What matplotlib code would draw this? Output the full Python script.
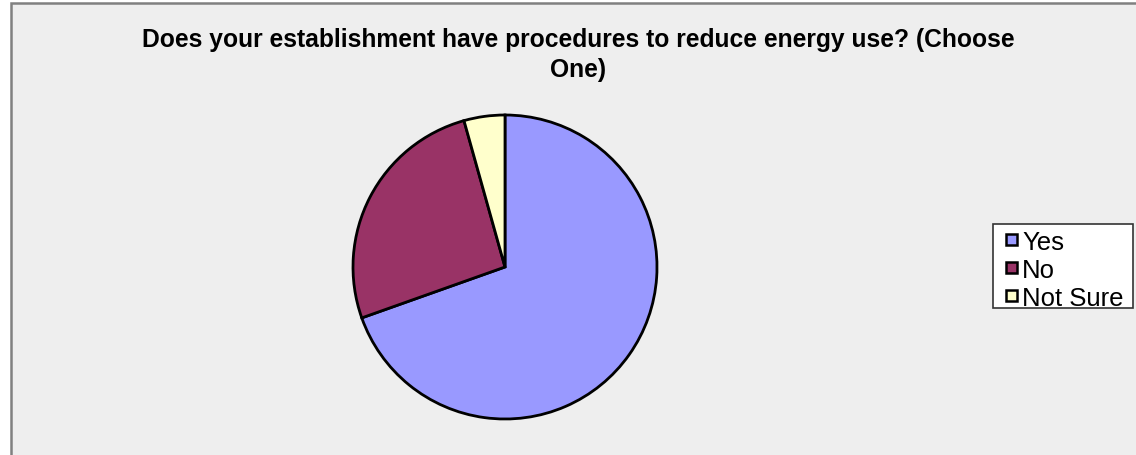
import matplotlib.pyplot as plt
from matplotlib.patches import Rectangle

# survey answers (counts)
labels = ["Yes", "No", "Not Sure"]
counts = [16, 6, 1]
colors = ["#9999ff", "#993366", "#ffffcc"]

title = "Does your establishment have procedures to reduce energy use? (Choose\nOne)"

plt.rcParams['font.family'] = ['Liberation Sans', 'DejaVu Sans']

W, H = 1136, 456
fig = plt.figure(figsize=(W / 100, H / 100), dpi=100)
fig.patch.set_facecolor("white")

# axes in pixel units so the pie can be placed directly
ax = fig.add_axes([0, 0, 1, 1])

# chart area background with grey frame
ax.add_patch(Rectangle((10.5, -10), W + 20, H - 3.5 + 10, facecolor="#eeeeee",
                       edgecolor="#808080", lw=1.8, zorder=0))

wedges, _ = ax.pie(counts, colors=colors, startangle=90, counterclock=False,
                   center=(505, H - 268), radius=152, frame=True,
                   wedgeprops=dict(edgecolor="black", linewidth=2))
ax.set_xlim(0, W)
ax.set_ylim(0, H)
ax.set_aspect("equal")
ax.axis("off")

ax.text(578, H - 55, title, ha="center", va="center", fontsize=17.7,
        fontweight="bold", linespacing=1.3)

# legend box drawn by hand: white frame, small squares, one row per answer
ax.add_patch(Rectangle((993, H - 309), 140, 84, facecolor="white",
                       edgecolor="#333333", lw=1.2, zorder=3))
row_y = [240, 268, 296]
for lab, col, y in zip(labels, colors, row_y):
    ax.add_patch(Rectangle((1006, H - y - 5.5), 11, 11, facecolor=col,
                           edgecolor="black", lw=1.8, zorder=4))
    ax.text(1022, H - y, lab, ha="left", va="center_baseline", fontsize=18.5,
            zorder=4)

fig.savefig("out.png", dpi=100)
